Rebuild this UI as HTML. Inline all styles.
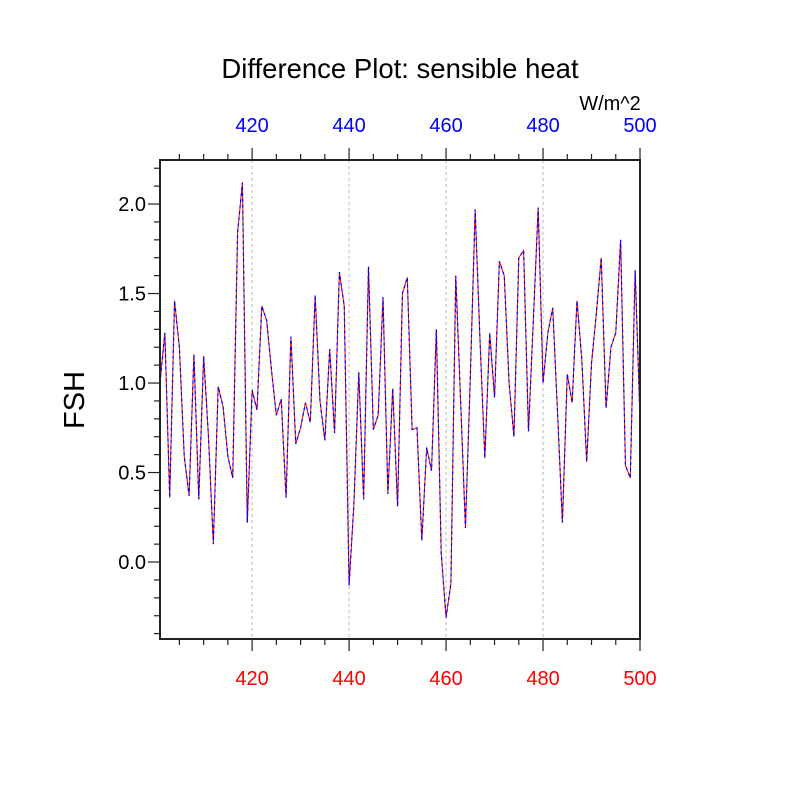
<!DOCTYPE html>
<html><head><meta charset="utf-8"><style>
html,body{margin:0;padding:0;background:#fff;}
svg text{font-family:"Liberation Sans",Arial,sans-serif;}
</style></head><body>
<svg id="chart" width="800" height="800" viewBox="0 0 800 800" xmlns="http://www.w3.org/2000/svg">
<text x="400" y="78" font-size="27.5" text-anchor="middle">Difference Plot: sensible heat</text>
<text x="610" y="110" font-size="20" text-anchor="middle">W/m^2</text>
<text transform="translate(84,400) rotate(-90)" font-size="29" text-anchor="middle">FSH</text>
<g id="grid"></g>
<g id="series"></g>
<g id="axes"></g>
</svg>
<script>
const xStart = 401;
const yValues = [1.0,1.28,0.36,1.46,1.2,0.59,0.37,1.16,0.35,1.15,
0.70,0.10,0.98,0.87,0.59,0.47,1.84,2.12,0.22,0.96,
0.85,1.43,1.35,1.07,0.82,0.91,0.36,1.26,0.66,0.75,
0.89,0.78,1.49,0.90,0.68,1.19,0.72,1.62,1.43,-0.13,
0.33,1.06,0.35,1.65,0.74,0.82,1.48,0.38,0.97,0.31,
1.50,1.59,0.74,0.75,0.12,0.64,0.51,1.30,0.05,-0.31,
-0.12,1.60,0.90,0.19,1.03,1.97,1.24,0.58,1.28,0.92,
1.68,1.60,1.00,0.70,1.70,1.74,0.73,1.35,1.98,1.00,
1.28,1.42,0.83,0.22,1.05,0.89,1.46,1.13,0.56,1.11,
1.39,1.70,0.86,1.20,1.28,1.80,0.54,0.47,1.63,0.80];
const xTicks = [420,440,460,480,500];
const yTicks = [0.0,0.5,1.0,1.5,2.0];

const NS="http://www.w3.org/2000/svg";
const L=160,R=640,T=160,B=639;
const xMin=401,xMax=500,yMin=-0.43,yMax=2.246;
function xs(v){return L+(v-xMin)/(xMax-xMin)*(R-L);}
function ys(v){return B-(v-yMin)/(yMax-yMin)*(B-T);}
function mk(tag,attrs,parent){const e=document.createElementNS(NS,tag);for(const k in attrs)e.setAttribute(k,attrs[k]);parent.appendChild(e);return e;}
const grid=document.getElementById('grid'),series=document.getElementById('series'),axes=document.getElementById('axes');

xTicks.forEach(t=>{ if(t<xMax){
 const g=mk('line',{x1:xs(t),x2:xs(t),y1:T,y2:B,stroke:'#bbb','stroke-width':1,'stroke-dasharray':'3,3'},grid);
 
 
}});

const pts=yValues.map((v,i)=>xs(xStart+i).toFixed(2)+','+ys(v).toFixed(2)).join(' ');
const red=mk('polyline',{points:pts,fill:'none',stroke:'#f00','stroke-width':1},series);


const blue=mk('polyline',{points:pts,fill:'none',stroke:'#00f','stroke-width':1.2,'stroke-dasharray':'3,3'},series);



const box=mk('rect',{x:L,y:T,width:R-L,height:B-T,fill:'none',stroke:'#222','stroke-width':2},axes);



for(let v=405;v<=500;v+=5){
 const major=xTicks.includes(v);const len=major?12:6;
 const t1=mk('line',{x1:xs(v),x2:xs(v),y1:B,y2:B+len,stroke:'#222','stroke-width':1.2},axes);
 
 
 const t2=mk('line',{x1:xs(v),x2:xs(v),y1:T,y2:T-len,stroke:'#222','stroke-width':1.2},axes);
 
 
}
xTicks.forEach(t=>{
 const a=mk('text',{x:xs(t),y:685,'font-size':20,'text-anchor':'middle',fill:'#f00'},axes);a.textContent=t;
 
 
 const b=mk('text',{x:xs(t),y:132,'font-size':20,'text-anchor':'middle',fill:'#00f'},axes);b.textContent=t;
 
 
});
for(let k=-4;k<=22;k++){
 const v=k/10;if(v<yMin||v>yMax)continue;
 const major=k%5===0;const len=major?12:6;
 const t=mk('line',{x1:L-len,x2:L,y1:ys(v),y2:ys(v),stroke:'#222','stroke-width':1.2},axes);
 
 
}
yTicks.forEach(v=>{
 const a=mk('text',{x:146,y:ys(v)+7,'font-size':20,'text-anchor':'end'},axes);a.textContent=v.toFixed(1);
 
 
});
</script>
</body></html>
